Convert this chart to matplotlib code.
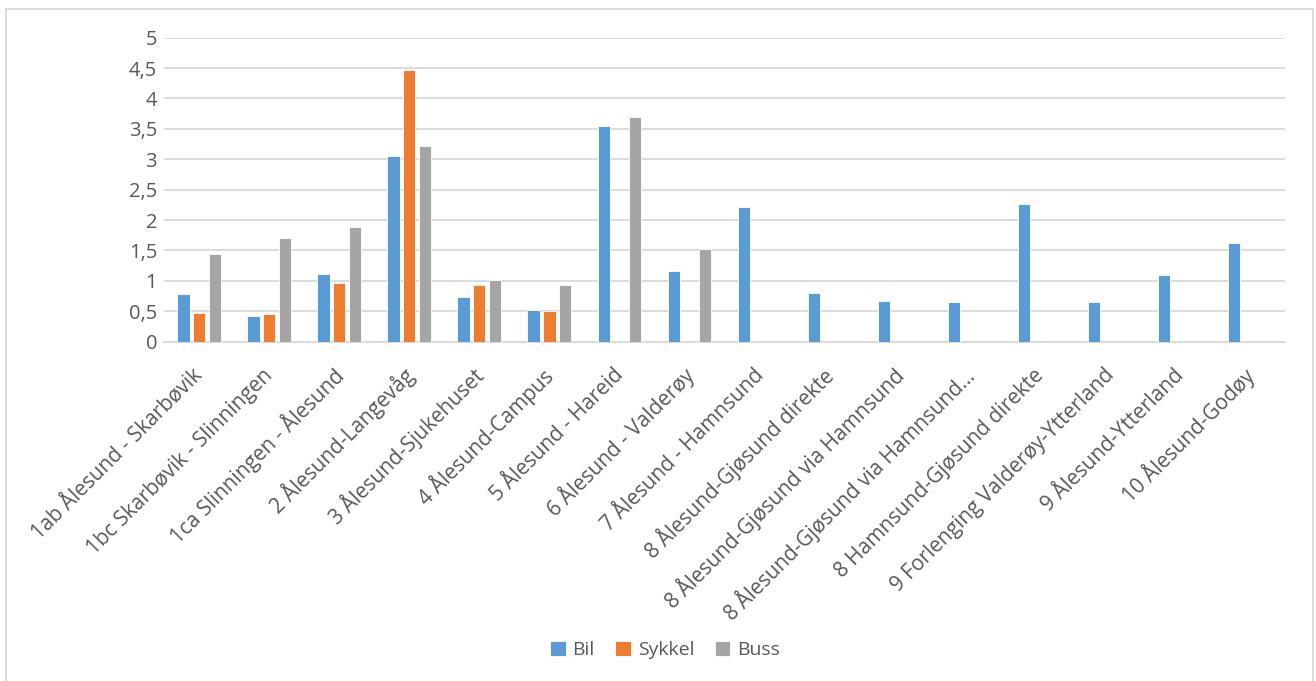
import numpy as np
import matplotlib
matplotlib.use("Agg")
import matplotlib.pyplot as plt
from matplotlib.patches import Rectangle
from matplotlib.ticker import FuncFormatter
from matplotlib.transforms import ScaledTranslation

plt.rcParams['font.family'] = ['Open Sans', 'DejaVu Sans']

categories = [
    "1ab Ålesund - Skarbøvik",
    "1bc Skarbøvik - Slinningen",
    "1ca Slinningen - Ålesund",
    "2 Ålesund-Langevåg",
    "3 Ålesund-Sjukehuset",
    "4 Ålesund-Campus",
    "5 Ålesund - Hareid",
    "6 Ålesund - Valderøy",
    "7 Ålesund - Hamnsund",
    "8 Ålesund-Gjøsund direkte",
    "8 Ålesund-Gjøsund via Hamnsund",
    "8 Ålesund-Gjøsund via Hamnsund…",
    "8 Hamnsund-Gjøsund direkte",
    "9 Forlenging Valderøy-Ytterland",
    "9 Ålesund-Ytterland",
    "10 Ålesund-Godøy",
]

bil = [0.78, 0.42, 1.11, 3.05, 0.74, 0.52, 3.55, 1.17, 2.21, 0.80, 0.67, 0.65, 2.27, 0.66, 1.10, 1.62]
sykkel = [0.48, 0.455, 0.96, 4.47, 0.93, 0.50, np.nan, np.nan, np.nan, np.nan, np.nan, np.nan, np.nan, np.nan, np.nan, np.nan]
buss = [1.44, 1.70, 1.88, 3.22, 1.01, 0.93, 3.70, 1.53, np.nan, np.nan, np.nan, np.nan, np.nan, np.nan, np.nan, np.nan]

series_names = ["Bil", "Sykkel", "Buss"]
colors = ["#5B9BD5", "#ED7D31", "#A5A5A5"]
yticks = [0, 0.5, 1, 1.5, 2, 2.5, 3, 3.5, 4, 4.5, 5]

text_color = "#595959"
grid_color = "#D9D9D9"

W, H = 1316, 681
fig = plt.figure(figsize=(W / 100, H / 100), dpi=100)
fig.patch.set_facecolor("white")

# chart frame
fig.add_artist(Rectangle((5.5 / W, -0.01), (1313 - 5.5) / W, 1 - 9 / H + 0.01,
                         transform=fig.transFigure, fill=False,
                         edgecolor="#D9D9D9", linewidth=1.3))

ax = fig.add_axes([164 / W, 1 - 341.7 / H, (1285 - 164) / W, (341.7 - 37.7) / H])

x = np.arange(len(categories))
bar_w = 0.176
step = 0.224
for i, (name, vals, col) in enumerate(zip(series_names, [bil, sykkel, buss], colors)):
    ax.bar(x + (i - 1) * step, vals, width=bar_w, color=col, label=name,
           edgecolor="white", linewidth=0.6, zorder=3)

ax.set_xlim(-0.5, len(categories) - 0.5)
ax.set_ylim(0, 5)
ax.set_yticks(yticks)
ax.yaxis.set_major_formatter(FuncFormatter(lambda v, p: f"{v:g}".replace(".", ",")))
ax.grid(axis="y", color=grid_color, linewidth=1.3, zorder=0)
ax.set_axisbelow(True)
for s in ["top", "right", "left"]:
    ax.spines[s].set_visible(False)
ax.spines["bottom"].set_color(grid_color)
ax.spines["bottom"].set_linewidth(1.3)
ax.tick_params(axis="y", length=0, pad=5, labelsize=14.5, labelcolor=text_color)
ax.tick_params(axis="x", length=0, pad=22)

ax.set_xticks(x)
ax.set_xticklabels(categories, rotation=45, ha="right", va="center",
                   rotation_mode="anchor", fontsize=15, color=text_color)
shift = ScaledTranslation(1 / 100, 0, fig.dpi_scale_trans)
for lbl in ax.get_xticklabels():
    lbl.set_transform(lbl.get_transform() + shift)

leg = fig.legend(loc="center", bbox_to_anchor=(665 / W, 1 - 650 / H), ncol=3,
                 frameon=False, fontsize=14, handlelength=0.8, handleheight=0.8,
                 handletextpad=0.35, columnspacing=1.05)
for t in leg.get_texts():
    t.set_color(text_color)

fig.savefig("out.png", dpi=100, facecolor="white")
